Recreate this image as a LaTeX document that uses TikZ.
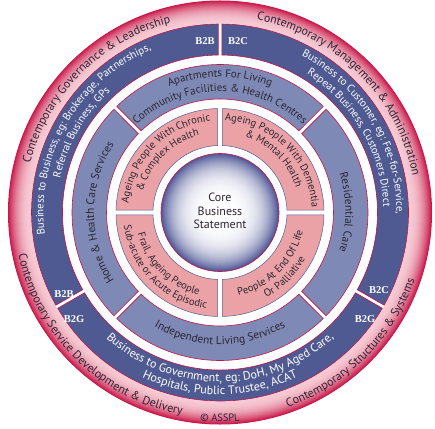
\documentclass[tikz,border=0pt]{standalone}
\usepackage{fontspec}
\setmainfont{PT Sans}
\newfontfamily\labfont{Liberation Serif}
\usetikzlibrary{decorations.text}
\definecolor{darkblue}{RGB}{78,90,145}
\definecolor{medblue}{RGB}{126,137,181}
\definecolor{pinkseg}{RGB}{234,162,166}
\definecolor{crimson}{RGB}{200,20,70}
\definecolor{navyline}{RGB}{85,95,155}
\definecolor{txtdark}{RGB}{45,38,52}
\definecolor{ringlight}{RGB}{246,202,212}
\definecolor{coreedge}{RGB}{78,86,150}
\newcommand\fOuter{\fontsize{12}{13}\selectfont\color{txtdark}}
\newcommand\fSmall{\fontsize{10.5}{12}\selectfont\color{txtdark}}
\newcommand\fDark{\fontsize{10.8}{12}\selectfont\color{white}}
\newcommand\fDarkB{\fontsize{12}{12}\selectfont\color{white}}
\newcommand\fMed{\fontsize{11.4}{12}\selectfont\color{txtdark}}
\newcommand\fMedT{\fontsize{11}{12}\selectfont\color{txtdark}}
\newcommand\fPink{\fontsize{10.5}{12}\selectfont\color{txtdark}}
% sector: start, end, rin, rout, halfgap, style
\newcommand{\ringsector}[6]{%
  \path[#6] ({#1+asin(#5/#3)}:#3pt) -- ({#1+asin(#5/#4)}:#4pt)
    arc[start angle={#1+asin(#5/#4)}, end angle={#2-asin(#5/#4)}, radius=#4pt]
    -- ({#2-asin(#5/#3)}:#3pt)
    arc[start angle={#2-asin(#5/#3)}, end angle={#1+asin(#5/#3)}, radius=#3pt] -- cycle;}
% text on arcs: radius, centre angle, half span, text
\newcommand{\arctop}[4]{%
  \path[decorate, decoration={text along path, text align=center, text={#4}}]
    ({#2+#3}:#1pt) arc[start angle={#2+#3}, end angle={#2-#3}, radius=#1pt];}
\newcommand{\arcbot}[4]{%
  \path[decorate, decoration={text along path, text align=center, text={#4}}]
    ({#2-#3}:#1pt) arc[start angle={#2-#3}, end angle={#2+#3}, radius=#1pt];}
\begin{document}
\begin{tikzpicture}[x=1pt,y=1pt,
  darkseg/.style={fill=darkblue, draw=crimson, line width=0.6pt},
  medseg/.style={fill=medblue, draw=crimson, line width=0.6pt},
  pinkbox/.style={fill=pinkseg, draw=navyline, line width=0.5pt},
  lab/.style={font=\labfont\bfseries\fontsize{10.5}{12}\selectfont, text=white, inner sep=0pt}]
\useasboundingbox (-220,-215.5) rectangle (215,212.5);
% outer ring: graded from crimson (outside) to light pink (inside)
\foreach \i in {0,...,46} {
  \pgfmathsetmacro\rr{212-\i*0.5}
  \pgfmathsetmacro\mm{100*((46-\i)/46)^2.2}
  \fill[crimson!\mm!ringlight] (0,0) circle[radius=\rr pt];
}
\fill[white] (0,0) circle[radius=189pt];
% dark ring
\ringsector{90}{210}{157.5}{188.5}{1.8}{darkseg}
\ringsector{210}{330}{157.5}{188.5}{1.8}{darkseg}
\ringsector{-30}{90}{157.5}{188.5}{1.8}{darkseg}
% medium ring
\ringsector{45}{135}{113.5}{148}{2}{medseg}
\ringsector{135}{225}{113.5}{148}{2}{medseg}
\ringsector{225}{315}{113.5}{148}{2}{medseg}
\ringsector{-45}{45}{113.5}{148}{2}{medseg}
% pink ring
\ringsector{0}{90}{67}{104}{2.3}{pinkbox}
\ringsector{90}{180}{67}{104}{2.3}{pinkbox}
\ringsector{180}{270}{67}{104}{2.3}{pinkbox}
\ringsector{270}{360}{67}{104}{2.3}{pinkbox}
% core: white centre fading to blue at the rim
\foreach \i in {0,...,117} {
  \pgfmathsetmacro\rr{59-\i*0.5}
  \pgfmathsetmacro\mm{100*(\rr/59)^3.5}
  \fill[coreedge!\mm!white] (0,0) circle[radius=\rr pt];
}
\draw[crimson, line width=0.6pt] (0,0) circle[radius=59pt];
\node[align=center, font=\fontsize{12}{13.5}\selectfont, text=txtdark] (core) at (0,1.5) {Core\\Business\\Statement};
% outer ring texts
\arctop{196}{135}{44}{|\fOuter|Contemporary Governance {\&} Leadership}
\arctop{196}{45}{44}{|\fOuter|Contemporary Management {\&} Administration}
\arcbot{206}{-45}{44}{|\fOuter|Contemporary Structures {\&} Systems}
\arcbot{206}{225.5}{42}{|\fOuter|Contemporary Service Development {\&} Delivery}
\arcbot{209}{270}{10}{|\fSmall|© ASSPL}
% dark ring texts
\arctop{176.5}{150}{62}{|\fDark|Business to Business, eg: Brokerage, Partnerships,}
\arctop{163.5}{150}{62}{|\fDark|Referral Business, GPs}
\arctop{176.5}{31}{62}{|\fDark|Business to Customer, eg: Fee-for-Service,}
\arctop{163.5}{30}{62}{|\fDark|Repeat Business, Customers Direct}
\arcbot{169.5}{270}{62}{|\fDarkB|Business to Government, eg: DoH, My Aged Care,}
\arcbot{182}{270}{62}{|\fDarkB|Hospitals, Public Trustee, ACAT}
% medium ring texts
\arctop{135.5}{90}{50}{|\fMedT|Apartments For Living}
\arctop{121}{90}{50}{|\fMedT|Community Facilities {\&} Health Centres}
\arctop{125.5}{0}{50}{|\fMed|Residential Care}
\arcbot{132}{270}{50}{|\fMed|Independent Living Services}
\arctop{126}{180}{50}{|\fMed|Home {\&} Health Care Services}
% pink ring texts
\arctop{92}{135}{55}{|\fPink|Ageing People With Chronic}
\arctop{80}{135}{55}{|\fPink|{\&} Complex Health}
\arctop{92}{45}{55}{|\fPink|Ageing People With Dementia}
\arctop{80}{45}{55}{|\fPink|{\&} Mental Health}
\arcbot{85}{-45}{55}{|\fPink|People At End Of Life}
\arcbot{97}{-45}{55}{|\fPink|Or Palliative}
\arcbot{85}{225}{55}{|\fPink|Frail, Ageing People}
\arcbot{97}{225}{55}{|\fPink|Sub-acute or Acute Episodic}
% labels
\node[lab] (b2bT) at (-15,171.5) {B2B};
\node[lab] (b2cT) at (18,171.5) {B2C};
\node[lab] (b2bL) at (-156,-82) {B2B};
\node[lab] (b2gL) at (-146,-106.5) {B2G};
\node[lab] (b2cR) at (159,-77.5) {B2C};
\node[lab] (b2gR) at (145,-106.5) {B2G};
\end{tikzpicture}
\end{document}
